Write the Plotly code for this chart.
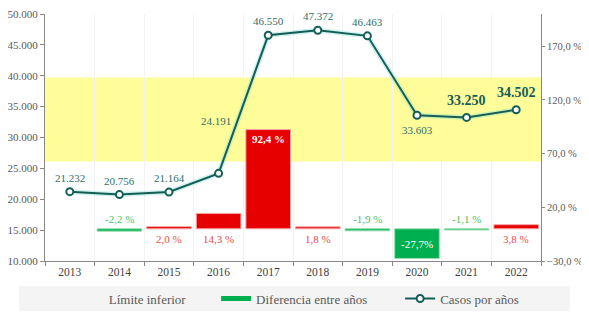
import plotly.graph_objects as go

years = ["2013", "2014", "2015", "2016", "2017", "2018", "2019", "2020", "2021", "2022"]
casos = [21232, 20756, 21164, 24191, 46550, 47372, 46463, 33603, 33250, 34502]
diferencia = [None, -2.2, 2.0, 14.3, 92.4, 1.8, -1.9, -27.7, -1.1, 3.8]
lim_inf = 26100
lim_sup = 39700

FONT = "Liberation Serif"
TEAL = "#155E58"
RED = "#E60000"
GREEN = "#00B050"

def fmt_int(v):
    return f"{v:,}".replace(",", ".")

def fmt_pct(v):
    return f"{v:.1f}".replace(".", ",") + " %"

fig = go.Figure()

bar_colors = [RED if (d is not None and d > 0) else GREEN for d in diferencia]
line_colors = ["#F6A3A3" if (d is not None and d > 0) else "#9BDDB0" for d in diferencia]
fig.add_trace(go.Bar(x=years, y=diferencia, yaxis="y2", width=0.9,
                     marker=dict(color=bar_colors, line=dict(color=line_colors, width=1)),
                     showlegend=False, hoverinfo="skip"))

# glow under line
fig.add_trace(go.Scatter(x=years, y=casos, mode="lines", showlegend=False,
                         line=dict(color="rgba(120,220,210,0.35)", width=5), hoverinfo="skip"))
fig.add_trace(go.Scatter(x=years, y=casos, mode="lines+markers", name="Casos por años",
                         line=dict(color=TEAL, width=2),
                         marker=dict(symbol="circle", size=7, color="white",
                                     line=dict(color=TEAL, width=2)),
                         legend="legend3"))

# legend-only entries
fig.add_trace(go.Scatter(x=[years[0]], y=[None], mode="lines", name="Límite inferior",
                         line=dict(color="rgba(0,0,0,0)", width=4), legend="legend"))
fig.add_trace(go.Scatter(x=[years[0]], y=[None], mode="lines", name="Diferencia entre años",
                         line=dict(color=GREEN, width=5), legend="legend2"))

annotations = []
# line labels (x given as category index)
offsets = {"2016": (-3, -52), "2020": (0, 15)}
for i, (yr, v) in enumerate(zip(years, casos)):
    dx, dy = offsets.get(yr, (0, -14))
    big = yr in ("2021", "2022")
    if big:
        dy = -17
    annotations.append(dict(x=i, y=v, xref="x", yref="y", text=fmt_int(v),
                            showarrow=False, xshift=dx, yshift=-dy,
                            font=dict(family=FONT, size=14 if big else 11,
                                      color=TEAL if big else "#2F6F6A",
                                      weight="bold" if big else "normal")))

vals = [v for v in diferencia if v is not None]
for i, (yr, d) in enumerate(zip(years, diferencia)):
    if d is None:
        continue
    if d == max(vals):
        annotations.append(dict(x=i, y=d, xref="x", yref="y2", text=fmt_pct(d),
                                showarrow=False, yshift=-9,
                                font=dict(family=FONT, size=11, color="white", weight="bold")))
    elif d == min(vals):
        annotations.append(dict(x=i, y=d / 2, xref="x", yref="y2",
                                text=fmt_pct(d).replace(" %", "%"),
                                showarrow=False,
                                font=dict(family=FONT, size=11, color="white")))
    elif d > 0:
        annotations.append(dict(x=i, y=0, xref="x", yref="y2", text=fmt_pct(d),
                                showarrow=False, yshift=-10,
                                font=dict(family=FONT, size=11, color="#F04848")))
    else:
        annotations.append(dict(x=i, y=0, xref="x", yref="y2", text=fmt_pct(d),
                                showarrow=False, yshift=10,
                                font=dict(family=FONT, size=11, color="#4CC267")))

shapes = [
    dict(type="rect", xref="paper", yref="y", x0=0, x1=1, y0=lim_inf, y1=lim_sup,
         fillcolor="#FFFD9A", line=dict(width=0), layer="below"),
    dict(type="rect", xref="paper", yref="paper", x0=-0.0524, x1=1.058, y0=-0.203, y1=-0.102,
         fillcolor="#F4F4F4", line=dict(width=0), layer="below"),
]

leg_common = dict(orientation="h", bgcolor="rgba(0,0,0,0)", yanchor="middle", y=-0.152,
                  xanchor="left", font=dict(family=FONT, size=13, color="#595959"))

fig.update_layout(
    width=578, height=312,
    margin=dict(l=37, r=45, t=6, b=52),
    paper_bgcolor="white", plot_bgcolor="white",
    separators=",.",
    font=dict(family=FONT, size=11, color="#595959"),
    showlegend=True,
    bargap=0.1,
    xaxis=dict(type="category", categoryorder="array", categoryarray=years,
               range=[-0.5, len(years) - 0.5], automargin=False,
               tickson="boundaries", ticks="outside", ticklen=4,
               tickcolor="#888888", showgrid=True, gridcolor="#F3F3F3",
               showline=True, linecolor="#888888",
               tickfont=dict(family=FONT, size=11.5, color="#404040")),
    yaxis=dict(range=[10000, 50000], dtick=5000, tickformat=",d", ticks="outside",
               ticklen=4, tickcolor="#888888", showgrid=False, showline=True,
               linecolor="#888888", zeroline=False, automargin=False,
               ticklabeloverflow="allow",
               tickfont=dict(family=FONT, size=11, color="#595959")),
    yaxis2=dict(range=[-30, 200], tick0=-30, dtick=50, tickformat=".1f", ticksuffix=" %",
                overlaying="y", side="right", ticks="outside", ticklen=3,
                tickcolor="#888888", showgrid=False, showline=True, linecolor="#888888",
                zeroline=False, automargin=False, ticklabeloverflow="allow",
                tickfont=dict(family=FONT, size=10.5, color="#595959")),
    legend=dict(x=0.048, **leg_common),
    legend2=dict(x=0.345, **leg_common),
    legend3=dict(x=0.716, **leg_common),
    annotations=annotations,
    shapes=shapes,
)

fig.write_html("out.html")
